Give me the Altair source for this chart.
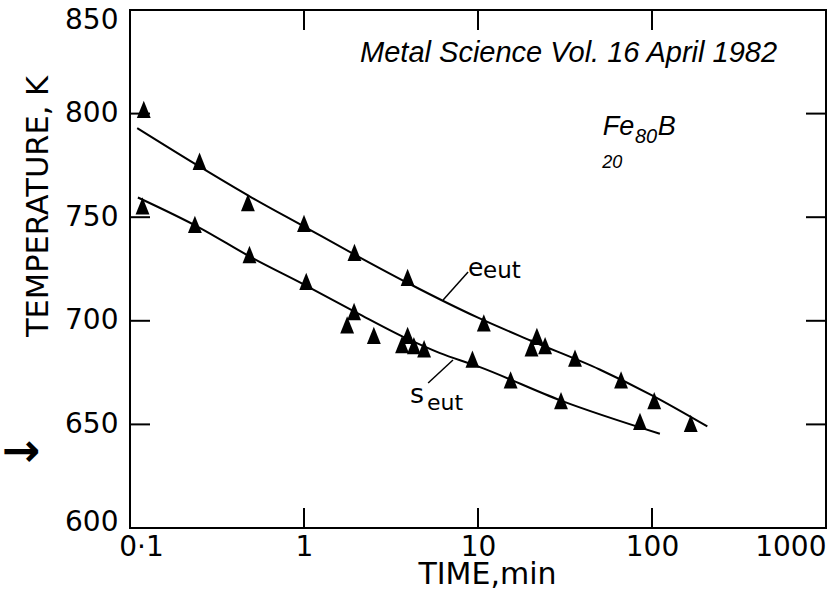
import altair as alt
import pandas as pd

# ---------------- data ----------------
X_TICKS = [0.1, 1, 10, 100, 1000]
Y_TICKS = [600, 650, 700, 750, 800, 850]
INNER_X_TICKS = [1, 10, 100]
INNER_Y_TICKS = [650, 700, 750, 800]

# e_eut measured points (time, min ; temperature, K)
e_time = [0.120, 0.251, 0.476, 1.0, 1.95, 3.94, 10.8, 20.3, 21.8, 24.3, 36.1, 66.4, 103, 167]
e_temp = [802, 777, 757, 747, 733, 721, 699, 687, 692.5, 688, 682, 671.5, 661.5, 650.5]
# s_eut measured points
s_time = [0.118, 0.236, 0.486, 1.03, 1.77, 1.94, 2.52, 3.66, 3.94, 4.28, 4.9, 9.29, 15.4, 30.0, 85.3]
s_temp = [755.5, 746.5, 732, 719, 698, 704.5, 693, 688.5, 693, 688, 686.5, 681.5, 671.5, 661.5, 651.5]

# fitted curves
e_fit_time = [0.11, 0.25, 0.5, 1, 2, 4, 10, 20, 50, 100, 208]
e_fit_temp = [793, 774.5, 759.5, 745.5, 731.5, 718, 701.5, 690.5, 676.5, 664, 649]
s_fit_time = [0.111, 0.25, 0.5, 1, 2, 4, 6, 10, 30, 111]
s_fit_temp = [759.5, 745, 730.5, 717.5, 704, 691, 684.5, 678, 661.5, 645.5]

# annotations (anchored in data coordinates)
ital_text = ["Metal Science Vol. 16 April 1982", "Fe", "80", "B", "20"]
ital_time = [2.10, 52.2, 79.8, 108, 51.7]
ital_temp = [825, 789.7, 785.8, 789.7, 773.7]
ital_size = [29, 27, 20, 27, 18]

curve_text = ["e", "eut", "s", "eut"]
curve_time = [8.77, 10.7, 4.06, 5.09]
curve_temp = [721.6, 720.7, 660.3, 657.0]
curve_size = [25, 23, 27, 22]

leader_time = [6.3, 5.17]
leader_time2 = [8.77, 7.18]
leader_temp = [710.0, 670.0]
leader_temp2 = [723.6, 681.1]

arrow_time = [0.0237]
arrow_temp = [636.7]

# ---------------- chart ----------------
W, H = 696, 518
FONT = "DejaVu Sans"
TRI = "M0,-1L-0.8,1L0.8,1Z"

xscale = alt.Scale(type="log", domain=[0.1, 1000], nice=False)
yscale = alt.Scale(domain=[600, 850], nice=False, zero=False)

xaxis = alt.Axis(
    values=X_TICKS,
    labelExpr="datum.value < 0.5 ? '0·1' : format(datum.value, 'd')",
    grid=False, ticks=False, tickSize=0, domain=False,
    labelFont=FONT, labelFontSize=28, labelColor="black",
    labelPadding=5, labelFlush=False, labelOverlap=False,
    labelAlign={"condition": {"test": "datum.value == 1000", "value": "right"}, "value": "center"},
    labelOffset={"condition": {"test": "datum.value < 0.5", "value": 11}, "value": 0},
    title="TIME,min", titleFont=FONT, titleFontSize=30, titleFontWeight="normal",
    titleColor="black", titleX=357, titleY=55, titleBaseline="alphabetic", titleAlign="center",
)
yaxis = alt.Axis(
    values=Y_TICKS, format="d",
    grid=False, ticks=False, tickSize=0, domain=False,
    labelFont=FONT, labelFontSize=28, labelColor="black",
    labelPadding=12, labelFlush=False, labelOverlap=False,
    labelOffset={"condition": [{"test": "datum.value == 850", "value": 10},
                               {"test": "datum.value == 600", "value": -6}], "value": 0},
    title="TEMPERATURE, K", titleFont=FONT, titleFontSize=30.5, titleFontWeight="normal",
    titleColor="black", titleX=-83, titleY=196, titleAngle=270,
    titleBaseline="alphabetic", titleAlign="center",
)

def X():
    return alt.X("time:Q", scale=xscale, axis=xaxis)

def Y():
    return alt.Y("temp:Q", scale=yscale, axis=yaxis)

pts = pd.DataFrame({"time": e_time + s_time, "temp": e_temp + s_temp})
points = alt.Chart(pts).mark_point(shape=TRI, filled=True, size=300, color="black",
                                   opacity=1, strokeWidth=0).encode(x=X(), y=Y())

e_fit = pd.DataFrame({"time": e_fit_time, "temp": e_fit_temp})
s_fit = pd.DataFrame({"time": s_fit_time, "temp": s_fit_temp})
e_line = alt.Chart(e_fit).mark_line(color="black", strokeWidth=2, interpolate="monotone").encode(x=X(), y=Y())
s_line = alt.Chart(s_fit).mark_line(color="black", strokeWidth=2, interpolate="monotone").encode(x=X(), y=Y())

xt = pd.DataFrame({"time": INNER_X_TICKS})
yt = pd.DataFrame({"temp": INNER_Y_TICKS})
tick_bottom = alt.Chart(xt).mark_rule(color="black", strokeWidth=2).encode(
    x=X(), y=alt.value(H), y2=alt.value(H - 20))
tick_top = alt.Chart(xt).mark_rule(color="black", strokeWidth=2).encode(
    x=X(), y=alt.value(0), y2=alt.value(20))
tick_left = alt.Chart(yt).mark_rule(color="black", strokeWidth=2).encode(
    y=Y(), x=alt.value(0), x2=alt.value(20))
tick_right = alt.Chart(yt).mark_rule(color="black", strokeWidth=2).encode(
    y=Y(), x=alt.value(W), x2=alt.value(W - 20))

lead = pd.DataFrame({"time": leader_time, "time2": leader_time2,
                     "temp": leader_temp, "temp2": leader_temp2})
leaders = alt.Chart(lead).mark_rule(color="black", strokeWidth=1.5).encode(
    x=X(), x2="time2:Q", y=Y(), y2="temp2:Q")

ital = pd.DataFrame({"time": ital_time, "temp": ital_temp, "label": ital_text, "fs": ital_size})
ital_layer = alt.Chart(ital).mark_text(font="Liberation Sans", fontStyle="italic", align="left",
                                       baseline="alphabetic", color="black").encode(
    x=X(), y=Y(), text="label:N", size=alt.Size("fs:Q", scale=None, legend=None))

ctext = pd.DataFrame({"time": curve_time, "temp": curve_temp, "label": curve_text, "fs": curve_size})
ctext_layer = alt.Chart(ctext).mark_text(font=FONT, align="left", baseline="alphabetic",
                                         color="black").encode(
    x=X(), y=Y(), text="label:N", size=alt.Size("fs:Q", scale=None, legend=None))

arrow = pd.DataFrame({"time": arrow_time, "temp": arrow_temp, "label": ["→"]})
arrow_layer = alt.Chart(arrow).mark_text(font=FONT, fontWeight="bold", fontSize=46, align="center",
                                         baseline="middle", color="black").encode(
    x=X(), y=Y(), text="label:N")

chart = alt.layer(
    points, e_line, s_line, tick_bottom, tick_top, tick_left, tick_right,
    leaders, ital_layer, ctext_layer, arrow_layer,
).properties(
    width=W, height=H,
    autosize=alt.AutoSizeParams(type="none"),
    padding={"left": 130, "top": 10, "right": 11, "bottom": 79},
    background="white",
).configure_view(stroke="black", strokeWidth=2)

chart.save("out.html", embed_options={"renderer": "svg", "actions": False})
